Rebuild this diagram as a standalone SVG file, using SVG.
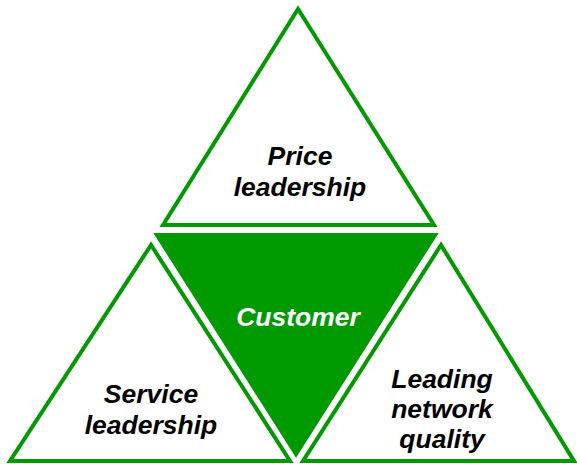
<svg xmlns="http://www.w3.org/2000/svg" width="577" height="464" viewBox="0 0 577 464">
<style>
.tri{fill:#ffffff;stroke:#009900;stroke-width:4;stroke-linejoin:miter}
.fill{fill:#009900;stroke:#009900;stroke-width:4}
.t{font-family:"Liberation Sans",Arial,sans-serif;font-weight:bold;font-style:italic;font-size:26.5px;text-anchor:middle;fill:#000000}
.w{fill:#ffffff}
</style>
<rect width="577" height="464" fill="#ffffff"/>
<g id="price">
<polygon class="tri" points="298,9 163,225 434,225"/>
<text class="t" x="300" y="165">Price</text>
<text class="t" x="300" y="196">leadership</text>
</g>
<g id="customer">
<polygon class="fill" points="157,235 435,235 296,454"/>
<text class="t w" x="298" y="326">Customer</text>
</g>
<g id="service">
<polygon class="tri" points="151,245 10,461 290,461"/>
<text class="t" x="151" y="403">Service</text>
<text class="t" x="151" y="434">leadership</text>
</g>
<g id="network">
<polygon class="tri" points="441,245 303,461 574,461"/>
<text class="t" x="442" y="388">Leading</text>
<text class="t" x="442" y="418">network</text>
<text class="t" x="442" y="448">quality</text>
</g>
<g id="connectors"/>
</svg>
